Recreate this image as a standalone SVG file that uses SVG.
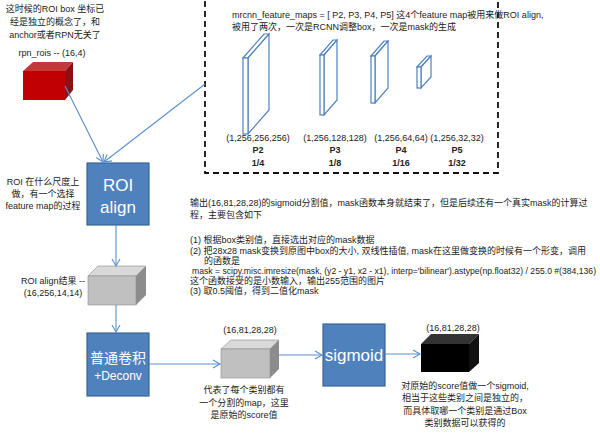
<svg xmlns="http://www.w3.org/2000/svg" width="600" height="438" viewBox="0 0 600 438">
<style>
text{font-family:"Liberation Sans","Noto Sans CJK SC",sans-serif;font-size:9px;fill:#222}
.c{text-anchor:middle}
.b{font-weight:bold}
.w{fill:#fff;font-size:17px;text-anchor:middle}
.box{fill:#4f81bd;stroke:#3a6596;stroke-width:1.2}
.slab{fill:#fff;stroke:#4f81bd;stroke-width:1.2}
.ln{stroke:#5b8fd0;stroke-width:1.1;fill:none;marker-end:url(#a)}
</style>
<defs><marker id="a" markerWidth="10" markerHeight="10" refX="8" refY="5" orient="auto" markerUnits="userSpaceOnUse"><path d="M1,1 L8,5 L1,9" fill="none" stroke="#5b8fd0" stroke-width="1.1"/></marker></defs>
<rect width="600" height="438" fill="#fff"/>
<g id="featuremaps">
<rect x="205" y="-5" width="293" height="178" fill="none" stroke="#111" stroke-width="1.8" stroke-dasharray="6,4"/>
<text x="232" y="18">mrcnn_feature_maps = [ P2, P3, P4, P5] 这4个feature map被用来做ROI align,</text>
<text x="232" y="30">被用了两次，一次是RCNN调整box，一次是mask的生成</text>
<polygon class="slab" points="243,58 264,34 269,34 248,58"/><polygon class="slab" points="248,58 269,34 269,110 248,134"/><rect class="slab" x="243" y="58" width="5" height="76"/>
<polygon class="slab" points="320,55 333,40 337,40 324,55"/><polygon class="slab" points="324,55 337,40 337,100 324,115"/><rect class="slab" x="320" y="55" width="4" height="60"/>
<polygon class="slab" points="371,56 384,41 388,41 375,56"/><polygon class="slab" points="375,56 388,41 388,88 375,103"/><rect class="slab" x="371" y="56" width="4" height="47"/>
<polygon class="slab" points="417,67 427,56 431,56 421,67"/><polygon class="slab" points="421,67 431,56 431,77 421,88"/><rect class="slab" x="417" y="67" width="4" height="21"/>
<text class="c" x="258" y="141">(1,256,256,256)</text><text class="c b" x="258" y="153">P2</text><text class="c b" x="258" y="166">1/4</text>
<text class="c" x="335" y="141">(1,256,128,128)</text><text class="c b" x="335" y="153">P3</text><text class="c b" x="335" y="166">1/8</text>
<text class="c" x="401" y="141">(1,256,64,64)</text><text class="c b" x="401" y="153">P4</text><text class="c b" x="401" y="166">1/16</text>
<text class="c" x="457" y="141">(1,256,32,32)</text><text class="c b" x="457" y="153">P5</text><text class="c b" x="457" y="166">1/32</text>
</g>
<g id="rpnrois">
<text class="c" x="55" y="12">这时候的ROI box 坐标已</text>
<text class="c" x="55" y="25">经是独立的概念了，和</text>
<text class="c" x="55" y="38">anchor或者RPN无关了</text>
<text class="c" x="52" y="56">rpn_rois -- (16,4)</text>
<polygon points="23,71 33,62 73,62 65,71" fill="#c0393b"/>
<polygon points="65,71 73,62 73,90 65,100" fill="#8e0f12"/>
<rect x="23" y="71" width="42" height="29" fill="#c00000"/>
</g>
<g id="roialign">
<rect class="box" x="87" y="163" width="62" height="62"/>
<text class="w" x="118" y="191">ROI</text><text class="w" x="118" y="213">align</text>
<text class="c" x="43" y="185">ROI 在什么尺度上</text>
<text class="c" x="43" y="197">做，有一个选择</text>
<text class="c" x="43" y="209">feature map的过程</text>
</g>
<g id="roiresult">
<polygon points="88,276 98,266 146,266 136,276" fill="#d9d9d9" stroke="#8c8c8c" stroke-width="0.6"/>
<polygon points="136,276 146,266 146,295 136,305" fill="#8c8c8c"/>
<rect x="88" y="276" width="48" height="29" fill="#c0c0c0" stroke="#8c8c8c" stroke-width="0.6"/>
<text class="c" x="53" y="284">ROI align结果 --</text>
<text class="c" x="53" y="296">(16,256,14,14)</text>
</g>
<g id="conv">
<rect class="box" x="87" y="333" width="62" height="63"/>
<text class="w" x="118" y="363" style="font-size:14px">普通卷积</text>
<text class="w" x="118" y="380" style="font-size:12px">+Deconv</text>
</g>
<g id="score">
<text class="c" x="250" y="333">(16,81,28,28)</text>
<polygon points="221,349 231,340 279,340 270,349" fill="#d9d9d9" stroke="#8c8c8c" stroke-width="0.6"/>
<polygon points="270,349 279,340 279,369 270,378" fill="#8c8c8c"/>
<rect x="221" y="349" width="49" height="29" fill="#c0c0c0" stroke="#8c8c8c" stroke-width="0.6"/>
<text class="c" x="244" y="393">代表了每个类别都有</text>
<text class="c" x="244" y="406">一个分割的map，这里</text>
<text class="c" x="244" y="418">是原始的score值</text>
</g>
<g id="sigmoid">
<rect class="box" x="323" y="324" width="62" height="62"/>
<text class="w" x="354" y="361">sigmoid</text>
</g>
<g id="mask">
<text class="c" x="453" y="331">(16,81,28,28)</text>
<polygon points="421,344 431,334 479,334 469,344" fill="#333"/>
<polygon points="469,344 479,334 479,363 469,372" fill="#111"/>
<rect x="421" y="344" width="48" height="28" fill="#000"/>
<text class="c" x="465" y="389">对原始的score值做一个sigmoid,</text>
<text class="c" x="465" y="401">相当于这些类别之间是独立的，</text>
<text class="c" x="465" y="414">而具体取哪一个类别是通过Box</text>
<text class="c" x="465" y="426">类别数据可以获得的</text>
</g>
<g id="notes">
<text x="190" y="206">输出(16,81,28,28)的sigmoid分割值，mask函数本身就结束了，但是后续还有一个真实mask的计算过</text>
<text x="190" y="218">程，主要包含如下</text>
<text x="190" y="243">(1)  根据box类别值，直接选出对应的mask数据</text>
<text x="190" y="254">(2)  把28x28 mask变换到原图中box的大小, 双线性插值, mask在这里做变换的时候有一个形变，调用</text>
<text x="204" y="264">的函数是</text>
<text x="192" y="274" textLength="404" lengthAdjust="spacingAndGlyphs">mask = scipy.misc.imresize(mask, (y2 - y1, x2 - x1), interp='bilinear').astype(np.float32) / 255.0 #(384,136)</text>
<text x="190" y="284">这个函数接受的是小数输入，输出255范围的图片</text>
<text x="190" y="294">(3)  取0.5阈值，得到二值化mask</text>
</g>
<g id="connectors">
<line class="ln" x1="65" y1="86" x2="103" y2="162"/>
<line class="ln" x1="205" y1="84" x2="104" y2="162"/>
<line class="ln" x1="116" y1="225" x2="116" y2="266"/>
<line class="ln" x1="116" y1="305" x2="116" y2="332"/>
<line class="ln" x1="149" y1="364" x2="220" y2="364"/>
<line class="ln" x1="279" y1="355" x2="322" y2="355"/>
<line class="ln" x1="385" y1="354" x2="420" y2="354"/>
</g>
</svg>
